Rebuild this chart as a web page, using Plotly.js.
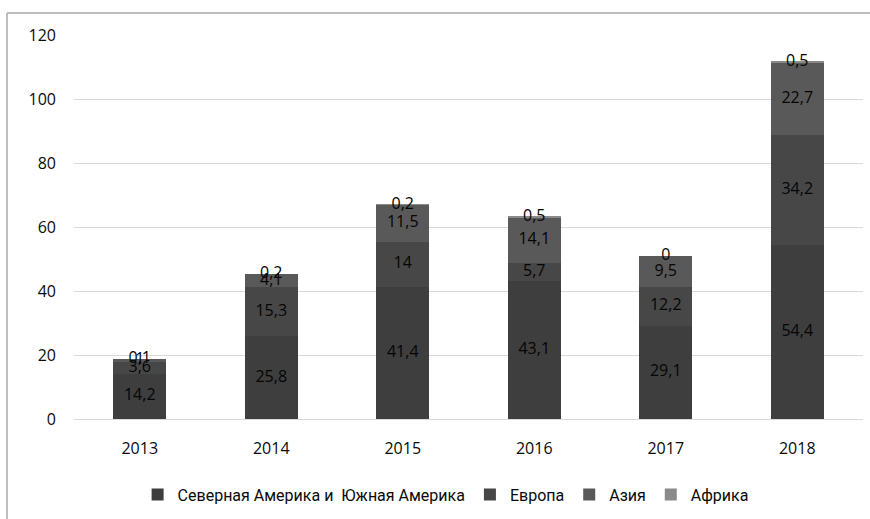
<!DOCTYPE html>
<html><head><meta charset="utf-8">
<script src="https://cdn.plot.ly/plotly-3.0.1.min.js"></script>
<style>html,body{margin:0;padding:0;background:#fff}#chart{width:870px;height:519px}</style>
</head><body><div id="chart"></div>
<script>
const years = ['2013','2014','2015','2016','2017','2018'];
const seriesNames = ['Северная Америка и  Южная Америка','Европа','Азия','Африка'];
const america = [14.2, 25.8, 41.4, 43.1, 29.1, 54.4];
const europe  = [3.6, 15.3, 14, 5.7, 12.2, 34.2];
const asia    = [1, 4.1, 11.5, 14.1, 9.5, 22.7];
const africa  = [0.1, 0.2, 0.2, 0.5, 0, 0.5];
const colors = ['#3e3e3e','#474747','#595959','#8a8a8a'];
const yTicks = [0,20,40,60,80,100,120];

const all = [america, europe, asia, africa];
const fmt = v => String(v).replace('.', ',');
const font = 'Open Sans, DejaVu Sans, sans-serif';
const traces = [];
all.forEach((vals, i) => {
  traces.push({type:'bar', x:years, y:vals, name:seriesNames[i],
    marker:{color:colors[i], line:{width:0}}, hoverinfo:'skip'});
});
// labels at segment centers
const base = years.map(() => 0);
all.forEach((vals, i) => {
  const mids = vals.map((v, k) => base[k] + v/2);
  vals.forEach((v, k) => base[k] += v);
  traces.push({type:'scatter', mode:'text', x:years, y:mids, text:vals.map(fmt),
    textfont:{family:font, size:16, color:'#050505'}, showlegend:false, hoverinfo:'skip', cliponaxis:false});
});

const layout = {
  width:870, height:519,
  margin:{l:74, r:7, t:35, b:98},
  barmode:'stack', bargap:0.6,
  paper_bgcolor:'#fff', plot_bgcolor:'#fff',
  font:{family:font, size:16, color:'#111'},
  xaxis:{type:'category', showgrid:false, zeroline:false, showline:false, ticks:'', ticklabelstandoff:18,
    tickfont:{family:font, size:16, color:'#0a0a0a'}},
  yaxis:{range:[0,120], tickvals:yTicks, ticktext:yTicks.map(String), showgrid:true, gridcolor:'#d9d9d9', gridwidth:1,
    zeroline:true, zerolinecolor:'#d9d9d9', zerolinewidth:1, showline:false, ticks:'', ticklabelstandoff:17,
    tickfont:{family:font, size:16, color:'#0a0a0a'}},
  legend:{orientation:'h', x:0.471, xanchor:'center', y:-0.197, yanchor:'middle',
    font:{family:'Roboto, sans-serif', size:16, color:'#0a0a0a'}, itemwidth:30, traceorder:'normal'},
  shapes:[
    {type:'line', xref:'paper', yref:'paper', x0:-0.0849, x1:1.02, y0:1.057, y1:1.057, line:{color:'#bdbdbd', width:2}, layer:'below'},
    {type:'line', xref:'paper', yref:'paper', x0:-0.0849, x1:-0.0849, y0:1.057, y1:-0.3, line:{color:'#bdbdbd', width:2}, layer:'below'}
  ]
};
Plotly.newPlot('chart', traces, layout, {displayModeBar:false, staticPlot:true});
</script></body></html>
